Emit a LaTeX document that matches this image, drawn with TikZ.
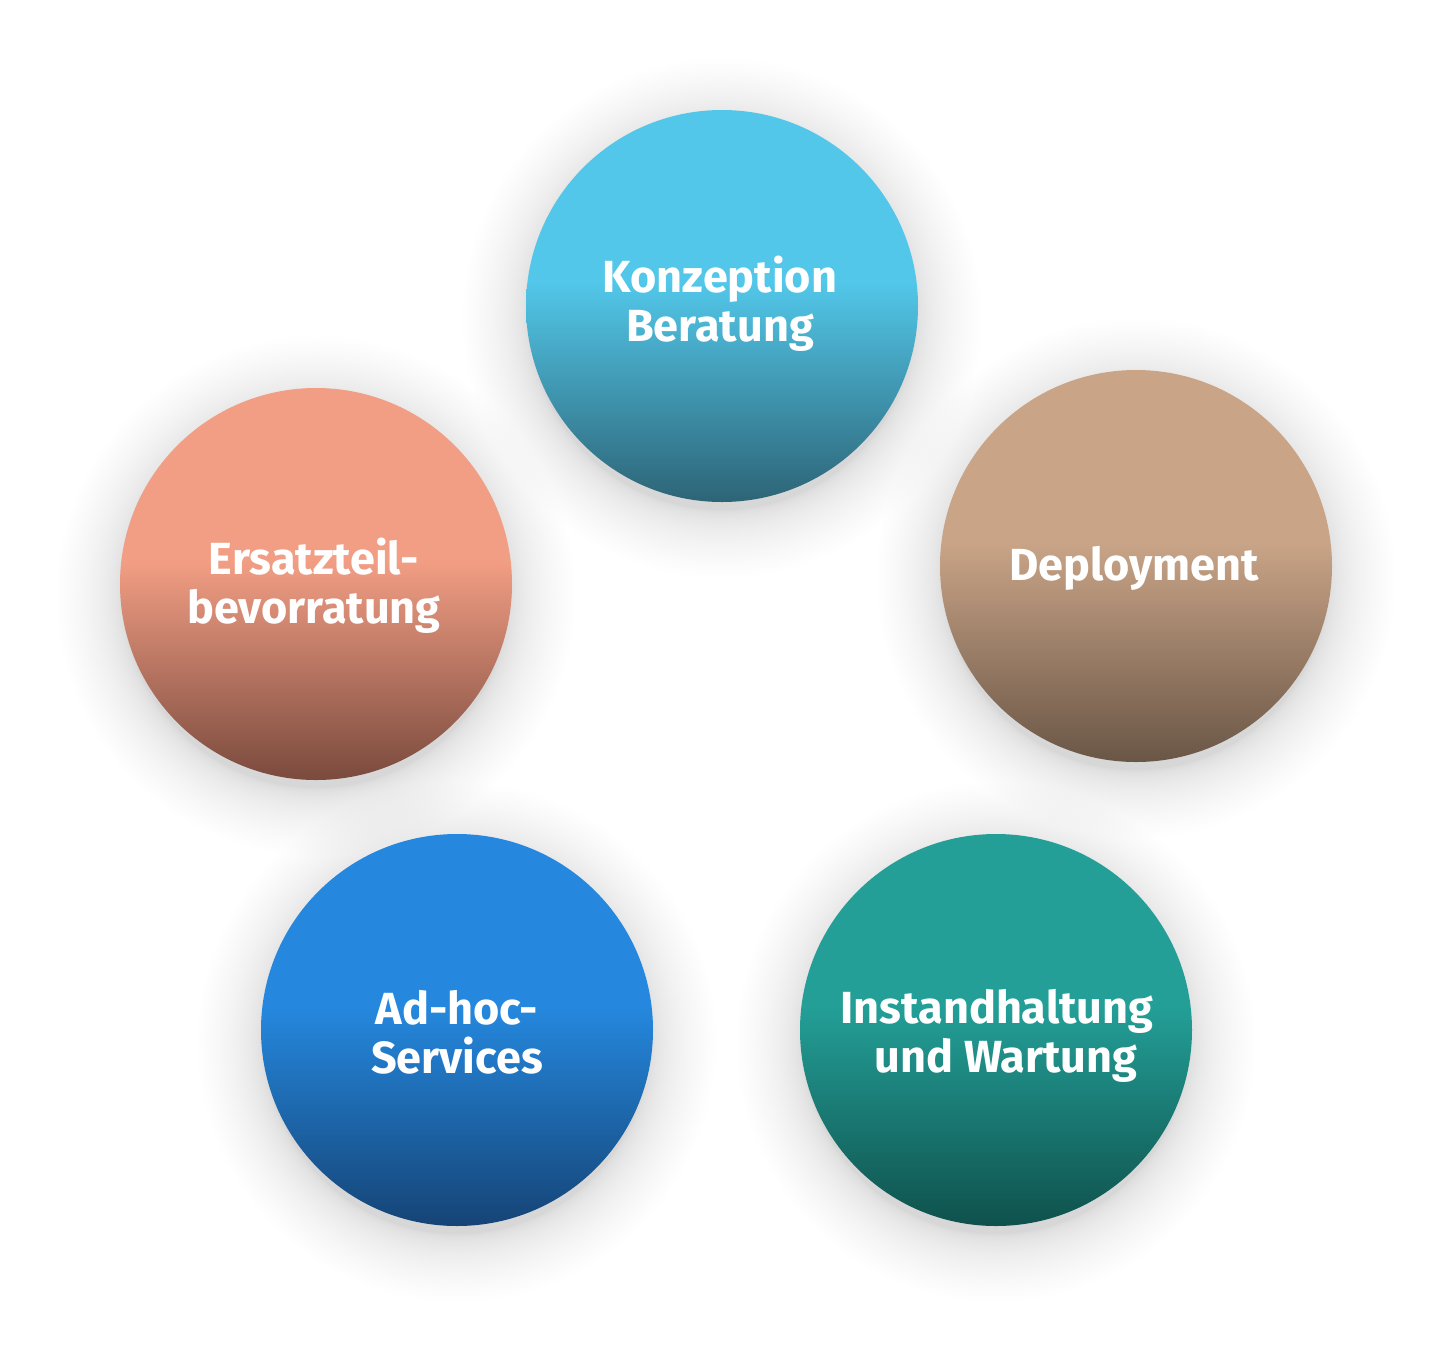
\documentclass[tikz,border=0pt]{standalone}
\usepackage{fontspec}
\setmainfont{Fira Sans}
\definecolor{cAt}{HTML}{52C7E9}\definecolor{cAb}{HTML}{2D6476}
\definecolor{cBt}{HTML}{C9A487}\definecolor{cBb}{HTML}{6A5646}
\definecolor{cCt}{HTML}{F29E84}\definecolor{cCb}{HTML}{7A4A3D}
\definecolor{cDt}{HTML}{2588DE}\definecolor{cDb}{HTML}{154476}
\definecolor{cEt}{HTML}{239F97}\definecolor{cEb}{HTML}{0F514C}
\pgfdeclareverticalshading{shA}{100bp}{color(0bp)=(cAb); color(25bp)=(cAb); color(53bp)=(cAt); color(100bp)=(cAt)}
\pgfdeclareverticalshading{shB}{100bp}{color(0bp)=(cBb); color(25bp)=(cBb); color(53bp)=(cBt); color(100bp)=(cBt)}
\pgfdeclareverticalshading{shC}{100bp}{color(0bp)=(cCb); color(25bp)=(cCb); color(53bp)=(cCt); color(100bp)=(cCt)}
\pgfdeclareverticalshading{shD}{100bp}{color(0bp)=(cDb); color(25bp)=(cDb); color(53bp)=(cDt); color(100bp)=(cDt)}
\pgfdeclareverticalshading{shE}{100bp}{color(0bp)=(cEb); color(25bp)=(cEb); color(53bp)=(cEt); color(100bp)=(cEt)}
\begin{document}
\begin{tikzpicture}[x=0.5pt,y=-0.5pt,
  bubble/.style={circle, minimum size=196pt, inner sep=0pt, draw=none},
  lbl/.style={text=white, align=center, inner sep=0pt,
    font=\fontsize{22.5pt}{24.5pt}\selectfont\bfseries}]
\useasboundingbox[fill=white] (0,0) rectangle (1452,1356);
\foreach \cx/\cy in {722/306,1136/566,316/584,457/1030,996/1030}{
  \foreach \i in {1,...,40}{
    \fill[black,opacity=0.0026] (\cx,\cy+12) circle ({96pt+0.021pt*\i*\i});
  }
}
\node[bubble, shading=shA] (kon) at (722,306) {};
\node[bubble, shading=shB] (dep) at (1136,566) {};
\node[bubble, shading=shC] (ers) at (316,584) {};
\node[bubble, shading=shD] (adh) at (457,1030) {};
\node[bubble, shading=shE] (ins) at (996,1030) {};
\node[lbl] (konT) at (720,304) {Konzeption\\Beratung};
\node[lbl] (depT) at (1134,568) {Deployment};
\node[lbl] (ersT) at (314,586) {Ersatzteil-\\bevorratung};
\node[lbl] (adhT) at (457,1032) {Ad-hoc-\\Services};
\node[lbl] (insT) at (997,1036) {Instandhaltung\\\hspace*{0.4em}und Wartung};
\end{tikzpicture}
\end{document}
